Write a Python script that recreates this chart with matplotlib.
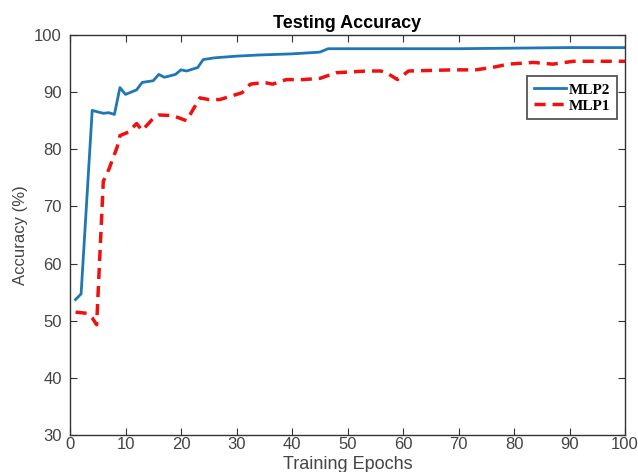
import matplotlib
matplotlib.use("Agg")
import matplotlib.pyplot as plt

# Data
mlp2_epochs = [1, 2, 4, 6, 7, 8, 9, 10, 12, 13, 15, 16, 17, 19, 20, 21, 23, 24,
               26, 30, 34, 40, 45, 46.5, 50, 60, 70, 80, 90, 100]
mlp2_acc = [53.7, 54.7, 86.8, 86.3, 86.4, 86.1, 90.8, 89.6, 90.4, 91.7, 92.0,
            93.1, 92.6, 93.1, 93.9, 93.7, 94.3, 95.7, 96.0, 96.3, 96.5, 96.7,
            97.0, 97.6, 97.6, 97.6, 97.6, 97.7, 97.8, 97.8]

mlp1_epochs = [1, 3, 4, 4.8, 6, 7, 8.5, 9, 10.5, 12, 13, 14.7, 16, 18.5, 21,
               23.4, 25, 27, 29, 31, 32.5, 35, 36.5, 39, 42, 45, 48, 53.5, 56,
               57, 59, 61, 69, 73, 76, 79, 83.5, 87, 90.7, 100]
mlp1_acc = [51.5, 51.3, 50.5, 49.3, 74.4, 76.5, 80.4, 82.4, 83.0, 84.5, 83.3,
            85.1, 86.0, 85.9, 85.0, 89.0, 88.7, 88.7, 89.3, 89.9, 91.4, 91.7,
            91.4, 92.2, 92.2, 92.4, 93.4, 93.7, 93.7, 93.4, 92.2, 93.7, 93.9,
            93.9, 94.3, 94.9, 95.2, 94.9, 95.4, 95.4]

x_ticks = [0, 10, 20, 30, 40, 50, 60, 70, 80, 90, 100]
y_ticks = [30, 40, 50, 60, 70, 80, 90, 100]
series_names = ["MLP2", "MLP1"]

plt.rcParams['font.family'] = ['Liberation Sans', 'DejaVu Sans']

fig = plt.figure(figsize=(6.38, 4.72), dpi=100)
ax = fig.add_axes([70/638, 37/472, 555/638, 400/472])

ax.plot(mlp2_epochs, mlp2_acc, color='#1f77b4', lw=2.0, label=series_names[0])
ax.plot(mlp1_epochs, mlp1_acc, color='#f01010', lw=2.5, linestyle=(0, (3.2, 2.0)),
        label=series_names[1])

ax.set_xlim(0, 100)
ax.set_ylim(30, 100)
ax.set_xticks(x_ticks)
ax.set_yticks(y_ticks)
ax.tick_params(direction='in', top=True, right=True, length=5, width=0.8,
               colors='#333333', labelcolor='#444444', labelsize=12)
ax.tick_params(axis='x', pad=1.5)
ax.tick_params(axis='y', pad=6)
for s in ax.spines.values():
    s.set_color('#333333')
    s.set_linewidth(1.0)

ax.set_title("Testing Accuracy", fontsize=13, fontweight='bold', pad=5)
ax.set_xlabel("Training Epochs", fontsize=13, color='#444444', labelpad=3)
ax.set_ylabel("Accuracy (%)", fontsize=12, color='#444444', labelpad=4)

leg = ax.legend(loc='upper right', bbox_to_anchor=(0.985, 0.8975),
                prop={'family': 'Liberation Serif', 'weight': 'bold', 'size': 11},
                fancybox=False, framealpha=1, edgecolor='#555555',
                handlelength=2.1, handletextpad=0.15, borderpad=0.45,
                labelspacing=0.15, borderaxespad=0)
leg.get_frame().set_linewidth(1.3)

fig.savefig("out.png", dpi=100)
